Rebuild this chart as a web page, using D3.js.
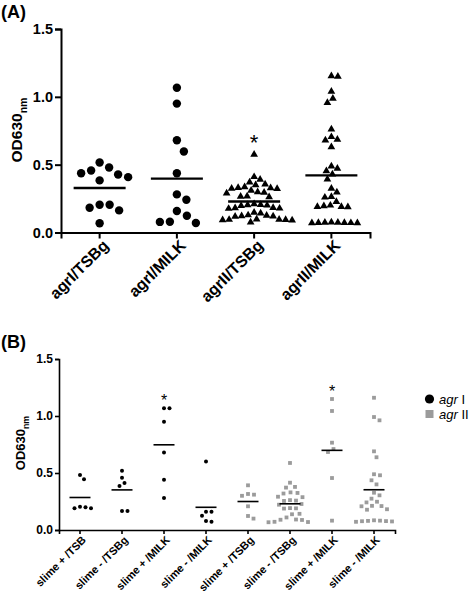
<!DOCTYPE html>
<html><head><meta charset="utf-8">
<script src="https://cdn.jsdelivr.net/npm/d3@7"></script>
<style>body{margin:0;background:#fff}svg{display:block}text{font-family:"Liberation Sans",Arial,sans-serif}</style>
</head><body><svg id="c" width="472" height="594"></svg>
<script>
// ---------- DATA ----------
const yTicks = [0, 0.5, 1.0, 1.5];

const aCategories = ["agrI/TSBg", "agrI/MILK", "agrII/TSBg", "agrII/MILK"];
const aMarkers = ["circle", "circle", "triangle", "triangle"];
const aSignificant = [false, false, true, false];
const aAgrI_TSBg = [0.516, 0.479, 0.457, 0.437, 0.428, 0.408, 0.384, 0.204, 0.204, 0.182, 0.163, 0.068];
const aAgrI_MILK = [1.067, 0.95, 0.68, 0.597, 0.437, 0.281, 0.241, 0.158, 0.124, 0.079, 0.078, 0.07];
const aAgrII_TSBg = [0.575, 0.41, 0.39, 0.37, 0.355, 0.35, 0.335, 0.33, 0.328, 0.325, 0.322, 0.31, 0.298, 0.295, 0.29,
  0.268, 0.265, 0.262, 0.21, 0.205, 0.203, 0.2, 0.198, 0.182, 0.18, 0.178, 0.176, 0.148, 0.142, 0.128, 0.125, 0.122,
  0.12, 0.118, 0.098, 0.096, 0.095, 0.094, 0.092, 0.09, 0.075];
const aAgrII_MILK = [1.153, 1.15, 1.04, 0.987, 0.957, 0.761, 0.705, 0.685, 0.68, 0.63, 0.489, 0.472, 0.454, 0.43, 0.393,
  0.325, 0.296, 0.263, 0.259, 0.226, 0.2, 0.195, 0.19, 0.19, 0.188, 0.075, 0.074, 0.073, 0.072, 0.072, 0.071, 0.07, 0.07];

const bCategories = ["slime + /TSB", "slime - /TSBg", "slime + /MILK", "slime - /MILK",
                     "slime + /TSBg", "slime - /TSBg", "slime + /MILK", "slime - /MILK"];
const bGenotype = ["agr I", "agr I", "agr I", "agr I", "agr II", "agr II", "agr II", "agr II"];
const bSignificant = [false, false, true, false, false, false, true, false];
const bI_slimePos_TSB = [0.482, 0.445, 0.204, 0.2, 0.19, 0.19];
const bI_slimeNeg_TSBg = [0.52, 0.459, 0.412, 0.386, 0.167, 0.167];
const bI_slimePos_MILK = [1.067, 1.067, 0.95, 0.68, 0.44, 0.28];
const bI_slimeNeg_MILK = [0.6, 0.16, 0.16, 0.125, 0.078, 0.072];
const bII_slimePos_TSBg = [0.392, 0.316, 0.31, 0.3, 0.208, 0.123, 0.1];
const bII_slimeNeg_TSBg = [0.588, 0.415, 0.378, 0.372, 0.33, 0.325, 0.32, 0.292, 0.288, 0.262, 0.258, 0.255, 0.228,
  0.222, 0.192, 0.19, 0.188, 0.142, 0.138, 0.11, 0.092, 0.09, 0.088, 0.072, 0.07, 0.068];
const bII_slimePos_MILK = [1.149, 1.044, 0.766, 0.71, 0.684, 0.456, 0.082];
const bII_slimeNeg_MILK = [1.16, 0.991, 0.962, 0.69, 0.638, 0.489, 0.48, 0.436, 0.4, 0.327, 0.304, 0.275, 0.248, 0.242,
  0.212, 0.21, 0.208, 0.182, 0.178, 0.085, 0.082, 0.08, 0.078, 0.077, 0.075, 0.072];

const legendGenus = "agr";
const legendTypes = ["I", "II"];
const axisTitle = "OD630";
const axisTitleSub = "nm";

const aValues = [aAgrI_TSBg, aAgrI_MILK, aAgrII_TSBg, aAgrII_MILK];
const bValues = [bI_slimePos_TSB, bI_slimeNeg_TSBg, bI_slimePos_MILK, bI_slimeNeg_MILK,
                 bII_slimePos_TSBg, bII_slimeNeg_TSBg, bII_slimePos_MILK, bII_slimeNeg_MILK];

// ---------- DRAW ----------
const svg = d3.select("#c");
svg.append("rect").attr("width", 472).attr("height", 594).attr("fill", "#fff");
const GREY = "#9b9b9b";

// beeswarm offsets (computed, deterministic), elliptical collision
function swarm(vals, y, dxd, dyd, step) {
  const order = vals.map((v, i) => i).sort((a, b) => vals[b] - vals[a]);
  const placed = [], out = new Array(vals.length);
  for (const i of order) {
    const py = y(vals[i]);
    let k = 0, off;
    while (true) {
      off = k === 0 ? 0 : (k % 2 ? 1 : -1) * Math.ceil(k / 2) * step;
      const ok = placed.every(p => ((p.x - off) / dxd) ** 2 + ((p.y - py) / dyd) ** 2 >= 1);
      if (ok) break;
      k++;
    }
    placed.push({x: off, y: py});
    out[i] = off;
  }
  return out;
}

function panel(opts) {
  const g = svg.append("g");
  const y = d3.scaleLinear().domain([0, 1.5]).range([opts.y0, opts.y1]);
  const x = d3.scaleBand().domain(d3.range(opts.cats.length)).range([opts.xl, opts.xr]);

  const ya = g.append("g").attr("transform", `translate(${opts.xl},0)`)
    .call(d3.axisLeft(y).tickValues(yTicks).tickFormat(d3.format(".1f")).tickSizeOuter(0).tickSize(opts.tick).tickPadding(2));
  ya.select(".domain").attr("stroke", "#000").attr("stroke-width", opts.axW);
  ya.selectAll(".tick line").attr("stroke", "#000").attr("stroke-width", opts.axW);
  ya.selectAll("text").attr("font-size", opts.tickFs).attr("font-weight", "bold").attr("fill", "#000")
    .attr("font-family", "Liberation Sans, Arial, sans-serif");

  const xa = g.append("g").attr("transform", `translate(0,${opts.y0})`)
    .call(d3.axisBottom(x).tickFormat(i => opts.cats[i]).tickSizeOuter(0).tickSize(opts.tick));
  xa.select(".domain").attr("stroke", "#000").attr("stroke-width", opts.axW);
  xa.selectAll(".tick line").attr("stroke", "#000").attr("stroke-width", opts.axW);
  xa.selectAll("text").attr("font-size", opts.xFs).attr("font-weight", "bold").attr("fill", "#000")
    .attr("font-family", "Liberation Sans, Arial, sans-serif")
    .attr("text-anchor", "end").attr("x", 0).attr("y", 0).attr("dy", "0.35em")
    .attr("transform", `translate(${opts.xlOff[0]},${opts.xlOff[1]}) rotate(-45)`);

  const t = g.append("text").attr("transform", `translate(${opts.titleX},${opts.titleY}) rotate(-90)`)
    .attr("text-anchor", "middle").attr("font-weight", "bold").attr("font-size", opts.titleFs);
  t.append("tspan").text(axisTitle);
  t.append("tspan").text(axisTitleSub).attr("font-size", opts.titleFs * 0.68).attr("dy", opts.titleFs * 0.3);

  opts.vals.forEach((vals, gi) => {
    const cx = x(gi) + x.bandwidth() / 2;
    const mk = opts.marker(gi);
    const offs = swarm(vals, y, mk.dx, mk.dy, 0.5);
    const col = opts.color(gi);
    vals.forEach((v, j) => {
      const px = cx + offs[j], py = y(v);
      if (mk.type === "circle") g.append("circle").attr("cx", px).attr("cy", py).attr("r", mk.r).attr("fill", col);
      else if (mk.type === "square") g.append("rect").attr("x", px - mk.r).attr("y", py - mk.r).attr("width", 2 * mk.r).attr("height", 2 * mk.r).attr("fill", col);
      else g.append("path").attr("d", d3.symbol(d3.symbolTriangle, mk.size)()).attr("transform", `translate(${px},${py})`).attr("fill", col);
    });
    const m = d3.mean(vals);
    g.append("line").attr("x1", cx - opts.meanHalf).attr("x2", cx + opts.meanHalf)
      .attr("y1", y(m)).attr("y2", y(m)).attr("stroke", "#000").attr("stroke-width", opts.meanW);
    if (opts.sig[gi]) {
      g.append("text").attr("x", cx).attr("y", y(d3.max(vals)) - opts.starGap).attr("text-anchor", "middle")
        .attr("font-size", opts.starFs).attr("fill", "#000").text("*");
    }
  });
  return g;
}

// Panel A
panel({
  cats: aCategories, vals: aValues, sig: aSignificant,
  y0: 232.5, y1: 29, xl: 61, xr: 370, tick: 6, axW: 2, tickFs: 14.5, xFs: 16,
  xlOff: [6, 10], titleX: 22, titleY: 130, titleFs: 15.5,
  marker: gi => aMarkers[gi] === "circle" ? {type: "circle", r: 4.2, dx: 10, dy: 15} : {type: "triangle", size: 26, dx: 6.3, dy: 7.3},
  color: () => "#000", meanHalf: 26, meanW: 2.4, starFs: 22, starGap: 4
});

// Panel B
panel({
  cats: bCategories, vals: bValues, sig: bSignificant,
  y0: 530, y1: 359, xl: 59, xr: 395, tick: 4, axW: 1.6, tickFs: 12, xFs: 11,
  xlOff: [4, 8], titleX: 25, titleY: 443, titleFs: 13,
  marker: gi => bGenotype[gi] === "agr I" ? {type: "circle", r: 2, dx: 5.3, dy: 6} : {type: "square", r: 1.9, dx: 6, dy: 6.5},
  color: gi => bGenotype[gi] === "agr I" ? "#000" : GREY, meanHalf: 10.5, meanW: 1.6, starFs: 16, starGap: 2
});

svg.append("text").attr("x", 1).attr("y", 18).attr("font-size", 18).attr("font-weight", "bold").text("(A)");
svg.append("text").attr("x", 1).attr("y", 348).attr("font-size", 18).attr("font-weight", "bold").text("(B)");

const lg = svg.append("g");
legendTypes.forEach((t, i) => {
  const ly = 399 + i * 15;
  if (i === 0) lg.append("circle").attr("cx", 429.5).attr("cy", ly).attr("r", 4.6).attr("fill", "#000");
  else lg.append("rect").attr("x", 425.5).attr("y", ly - 4).attr("width", 8).attr("height", 8).attr("fill", GREY);
  const tx = lg.append("text").attr("x", 439).attr("y", ly + 4.5).attr("font-size", 13).attr("fill", "#000");
  tx.append("tspan").attr("font-style", "italic").text(legendGenus);
  tx.append("tspan").text(" " + t);
});
</script></body></html>
